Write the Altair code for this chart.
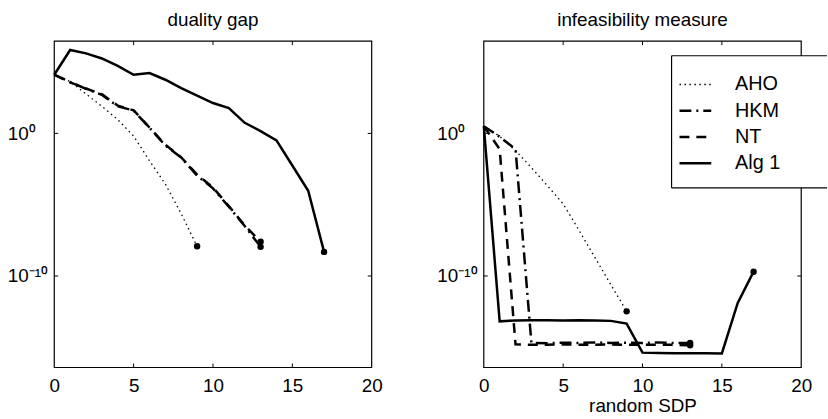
import altair as alt
import pandas as pd

# ---------------- data ----------------
methods = ["AHO", "HKM", "NT", "Alg 1"]

# duality gap (left panel)
gap_iter = {
    "AHO": list(range(10)),
    "HKM": list(range(14)),
    "NT": list(range(14)),
    "Alg 1": list(range(18)),
}
gap_vals = {
    "AHO": [1.3e4, 4.4e3, 5.8e2, 79, 9.3, 0.65, 1.2e-2, 2.8e-4, 2.3e-6, 1.2e-8],
    "HKM": [1.3e4, 4.0e3, 1.35e3, 5.1e2, 79, 40, 2.5, 0.14, 2.0e-2, 1.1e-3,
            1.4e-4, 7.1e-6, 3.2e-7, 1.1e-8],
    "NT": [1.3e4, 3.8e3, 1.4e3, 5.6e2, 89, 42, 2.6, 0.16, 2.1e-2, 1.3e-3,
           1.6e-4, 7.9e-6, 3.5e-7, 2.5e-8],
    "Alg 1": [1.3e4, 7.1e5, 4.1e5, 1.8e5, 5.4e4, 1.3e4, 1.7e4, 5.8e3, 1.5e3,
              4.4e2, 1.35e2, 60, 5.5, 1.45, 0.32, 5.6e-3, 9.5e-5, 4.9e-9],
}

# infeasibility measure (right panel)
inf_iter = {
    "AHO": list(range(10)),
    "HKM": list(range(14)),
    "NT": list(range(14)),
    "Alg 1": list(range(18)),
}
inf_vals = {
    "AHO": [3.2, 0.63, 6.3e-2, 4.0e-3, 2.2e-4, 1.15e-5, 1.6e-7, 2.0e-9,
            2.5e-11, 3.3e-13],
    "HKM": [3.2, 0.58, 7.9e-2, 2.0e-15, 1.9e-15, 2.1e-15, 2.0e-15, 2.2e-15,
            2.0e-15, 2.1e-15, 2.0e-15, 2.2e-15, 2.0e-15, 2.0e-15],
    "NT": [3.2, 7.9e-2, 1.6e-15, 1.5e-15, 1.5e-15, 1.6e-15, 1.5e-15, 1.5e-15,
           1.6e-15, 1.5e-15, 1.5e-15, 1.5e-15, 1.5e-15, 1.4e-15],
    "Alg 1": [3.2, 6.6e-14, 7.6e-14, 7.9e-14, 7.9e-14, 7.6e-14, 7.9e-14,
              7.6e-14, 7.1e-14, 4.6e-14, 4.2e-16, 4.0e-16, 3.8e-16, 3.8e-16,
              3.8e-16, 3.7e-16, 1.3e-12, 2.0e-10],
}

x_ticks = [0, 5, 10, 15, 20]
y_ticks = [1.0, 1e-10]
panel_titles = ["duality gap", "infeasibility measure"]
x_title_right = "random SDP"

# ---------------- styling ----------------
FONT = "Liberation Sans"
W, H = 320, 329
YMIN, YMAX = 10 ** -16.42, 10 ** 6.47
styles = {
    "AHO": dict(strokeDash=[1.5, 3.5], strokeWidth=1.3),
    "HKM": dict(strokeDash=[12, 5, 2, 5], strokeWidth=2.5),
    "NT": dict(strokeDash=[10, 7], strokeWidth=2.5),
    "Alg 1": dict(strokeWidth=2.5),
}


def xenc(title=None):
    return alt.X(
        "iter:Q",
        scale=alt.Scale(domain=[0, 20], nice=False, zero=False),
        axis=alt.Axis(values=x_ticks, ticks=False, domain=False, grid=False,
                      labelFont=FONT, labelFontSize=19, labelColor="black",
                      labelPadding=9, labelFlush=False,
                      titleFont=FONT, titleFontSize=19, titleFontWeight="normal",
                      titleColor="black", titlePadding=1),
        title=title,
    )


def yenc():
    return alt.Y(
        "value:Q",
        scale=alt.Scale(type="log", domain=[YMIN, YMAX], nice=False),
        axis=alt.Axis(values=y_ticks,
                      labelExpr="datum.value >= 0.5 ? '10\u2070' : '10\u207b\u00b9\u2070'",
                      ticks=False, domain=False, grid=False,
                      labelFont=FONT, labelFontSize=19, labelColor="black",
                      labelAlign="left", labelPadding=47.3, labelFlush=False),
        title=None,
    )


def panel(iters, vals, title, xtitle=None, legend=False):
    rows = []
    ends = []
    for m in methods:
        for i, v in zip(iters[m], vals[m]):
            rows.append({"method": m, "iter": i, "value": v})
        ends.append({"method": m, "iter": iters[m][-1], "value": vals[m][-1]})
    df = pd.DataFrame(rows)
    df_end = pd.DataFrame(ends)
    one = pd.DataFrame({"k": [0]})

    layers = []
    for m in methods:
        layers.append(
            alt.Chart(df).transform_filter(alt.datum.method == m)
            .mark_line(color="black", strokeCap="butt", strokeJoin="miter", **styles[m])
            .encode(x=xenc(xtitle), y=yenc())
        )
    layers.append(
        alt.Chart(df_end).mark_circle(color="black", opacity=1, size=42)
        .encode(x=xenc(xtitle), y=yenc())
    )
    # inward ticks
    dxt = pd.DataFrame({"iter": x_ticks[1:-1]})
    dyt = pd.DataFrame({"value": y_ticks})
    layers.append(alt.Chart(dxt).mark_rule(color="black", strokeWidth=1)
                  .encode(x=xenc(xtitle), y=alt.value(0), y2=alt.value(4)))
    layers.append(alt.Chart(dxt).mark_rule(color="black", strokeWidth=1)
                  .encode(x=xenc(xtitle), y=alt.value(H - 4), y2=alt.value(H)))
    layers.append(alt.Chart(dyt).mark_rule(color="black", strokeWidth=1)
                  .encode(y=yenc(), x=alt.value(0), x2=alt.value(4)))
    layers.append(alt.Chart(dyt).mark_rule(color="black", strokeWidth=1)
                  .encode(y=yenc(), x=alt.value(W - 4), x2=alt.value(W)))
    # frame
    layers.append(alt.Chart(one).mark_rect(filled=False, stroke="black", strokeWidth=1.2)
                  .encode(x=alt.value(0), x2=alt.value(W), y=alt.value(0), y2=alt.value(H)))
    # panel title
    layers.append(alt.Chart(one).mark_text(font=FONT, fontSize=19, align="center",
                                           baseline="alphabetic", color="black")
                  .encode(x=alt.value(W / 2), y=alt.value(-15.3), text=alt.value(title)))

    if legend:
        L, R, T, B = 189.3, 346.0, 14.7, 148.0
        layers.append(alt.Chart(one).mark_rect(fill="white", strokeWidth=0)
                      .encode(x=alt.value(L), x2=alt.value(R), y=alt.value(T), y2=alt.value(B)))
        layers.append(alt.Chart(one).mark_rule(color="black", strokeWidth=1.2)
                      .encode(x=alt.value(L), x2=alt.value(R), y=alt.value(T)))
        layers.append(alt.Chart(one).mark_rule(color="black", strokeWidth=1.2)
                      .encode(x=alt.value(L), x2=alt.value(R), y=alt.value(B)))
        layers.append(alt.Chart(one).mark_rule(color="black", strokeWidth=1.2)
                      .encode(x=alt.value(L), y=alt.value(T), y2=alt.value(B)))
        for k, m in enumerate(methods):
            yy = 43.7 + 26.5 * k
            layers.append(alt.Chart(one).mark_rule(color="black", strokeCap="butt", **styles[m])
                          .encode(x=alt.value(197.3), x2=alt.value(229.3), y=alt.value(yy)))
            layers.append(alt.Chart(one).mark_text(font=FONT, fontSize=20, align="left",
                                                   baseline="middle", color="black")
                          .encode(x=alt.value(253.3), y=alt.value(yy), text=alt.value(m)))

    return alt.layer(*layers).properties(width=W, height=H)


left = panel(gap_iter, gap_vals, panel_titles[0])
right = panel(inf_iter, inf_vals, panel_titles[1], xtitle=x_title_right, legend=True)

chart = (
    alt.hconcat(left, right, spacing=54)
    .properties(padding={"left": 6.7, "top": 8.8, "right": 0, "bottom": 0}, background="white")
    .configure_view(stroke=None)
)

chart.save("out.html", embed_options={"renderer": "svg", "actions": False})
